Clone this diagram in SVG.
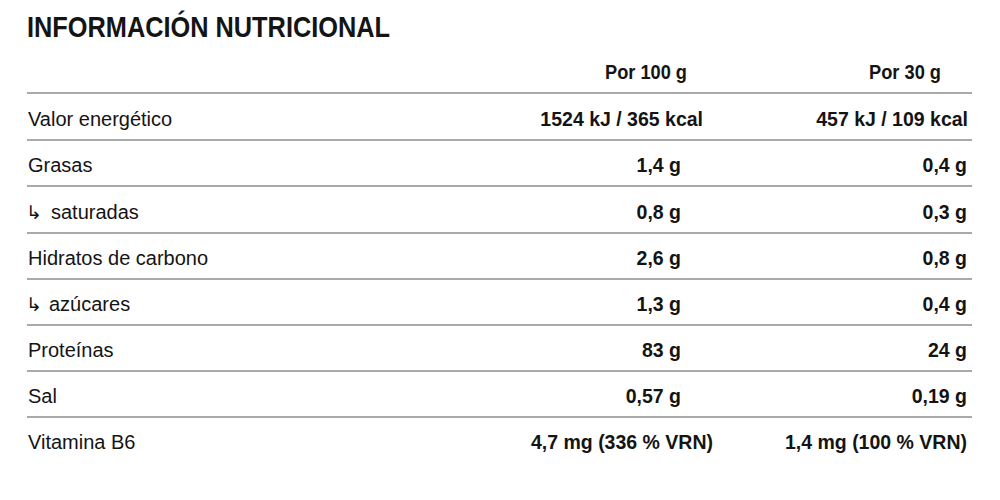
<svg xmlns="http://www.w3.org/2000/svg" width="1000" height="500" viewBox="0 0 1000 500">
<style>
text{font-family:"Liberation Sans",Arial,sans-serif;fill:#141414;font-size:20px}
.t{font-weight:bold;font-size:30px}
.b{font-weight:bold;text-anchor:end;font-size:19.5px}
.arr{font-family:"DejaVu Sans",sans-serif;font-size:19px}
line{stroke:#8c8c8c;stroke-width:1.5}
</style>
<rect width="1000" height="500" fill="#fff"/>
<text id="title" class="t" x="27" y="37" textLength="363" lengthAdjust="spacingAndGlyphs">INFORMACIÓN NUTRICIONAL</text>
<g id="header">
<text class="b" x="687" y="79" textLength="82" lengthAdjust="spacingAndGlyphs">Por 100 g</text>
<text class="b" x="941" y="79" textLength="72" lengthAdjust="spacingAndGlyphs">Por 30 g</text>
</g>
<g id="rules">
<line x1="27" y1="93" x2="972" y2="93"/>
<line x1="27" y1="140" x2="972" y2="140"/>
<line x1="27" y1="186" x2="972" y2="186"/>
<line x1="27" y1="233" x2="972" y2="233"/>
<line x1="27" y1="279" x2="972" y2="279"/>
<line x1="27" y1="325" x2="972" y2="325"/>
<line x1="27" y1="371" x2="972" y2="371"/>
<line x1="27" y1="417" x2="972" y2="417"/>
</g>
<g id="row-energia">
<text x="28" y="126">Valor energético</text>
<text class="b" x="703" y="126">1524 kJ / 365 kcal</text>
<text class="b" x="968" y="126">457 kJ / 109 kcal</text>
</g>
<g id="row-grasas">
<text x="28" y="172">Grasas</text>
<text class="b" x="681" y="172">1,4 g</text>
<text class="b" x="967" y="172">0,4 g</text>
</g>
<g id="row-saturadas">
<text class="arr" x="26" y="219">↳</text>
<text x="51" y="219">saturadas</text>
<text class="b" x="681" y="219">0,8 g</text>
<text class="b" x="967" y="219">0,3 g</text>
</g>
<g id="row-hidratos">
<text x="28" y="265">Hidratos de carbono</text>
<text class="b" x="681" y="265">2,6 g</text>
<text class="b" x="967" y="265">0,8 g</text>
</g>
<g id="row-azucares">
<text class="arr" x="26" y="311">↳</text>
<text x="49" y="311">azúcares</text>
<text class="b" x="681" y="311">1,3 g</text>
<text class="b" x="967" y="311">0,4 g</text>
</g>
<g id="row-proteinas">
<text x="28" y="357">Proteínas</text>
<text class="b" x="681" y="357">83 g</text>
<text class="b" x="967" y="357">24 g</text>
</g>
<g id="row-sal">
<text x="28" y="403">Sal</text>
<text class="b" x="681" y="403">0,57 g</text>
<text class="b" x="967" y="403">0,19 g</text>
</g>
<g id="row-vitamina">
<text x="28" y="449">Vitamina B6</text>
<text class="b" x="713" y="449">4,7 mg (336 % VRN)</text>
<text class="b" x="967" y="449">1,4 mg (100 % VRN)</text>
</g>
</svg>
